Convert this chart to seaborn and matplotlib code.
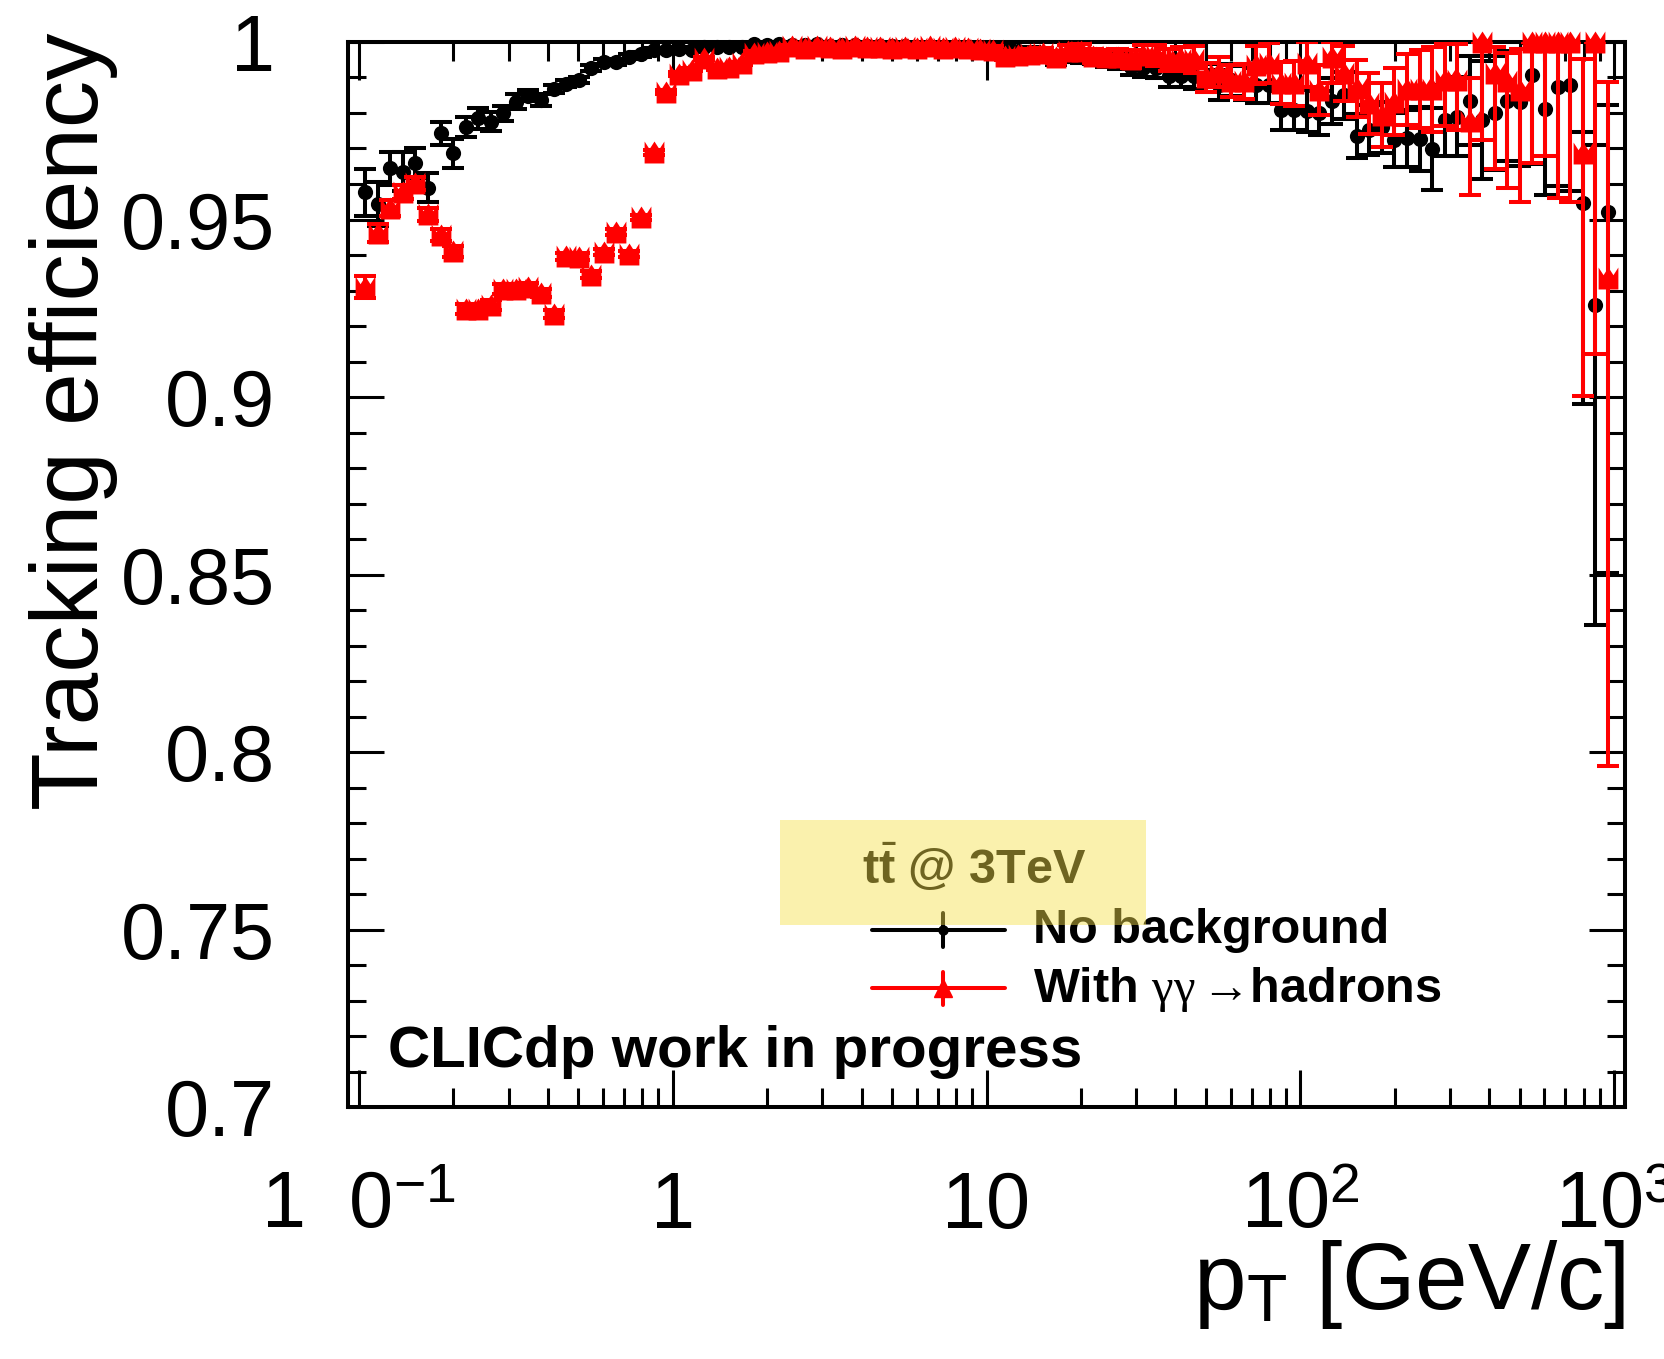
import numpy as np
import pandas as pd
import matplotlib
matplotlib.use("Agg")
import matplotlib.pyplot as plt
import seaborn as sns
from matplotlib.ticker import FixedLocator, FixedFormatter, NullFormatter
from matplotlib.patches import Rectangle
from matplotlib.lines import Line2D
from matplotlib.path import Path

# ---------------- data ----------------
# histogram binning: 100 log bins, 0.1 .. 1000 GeV/c (25 per decade)
bin_edges = np.logspace(-1, 3, 101)
pt_centers = np.sqrt(bin_edges[:-1] * bin_edges[1:])

label_nobkg = "No background"
label_bkg = "With $\\gamma\\gamma\\,$\u2192hadrons"

eff_nobkg = [
    0.9577, 0.9544, 0.9644, 0.9635, 0.9660, 0.9590, 0.9743, 0.9686, 0.9761, 0.9785,
    0.9776, 0.9799, 0.9832, 0.9849, 0.9837, 0.9867, 0.9882, 0.9893, 0.9926, 0.9945,
    0.9943, 0.9959, 0.9965, 0.9977, 0.9977, 0.9980, 0.9977, 0.9986, 0.9986, 0.9986,
    0.9986, 0.9993, 0.9992, 0.9993, 0.9992, 0.9991, 0.9993, 0.9990, 0.9991, 0.9992,
    0.9990, 0.9989, 0.9990, 0.9988, 0.9987, 0.9985, 0.9986, 0.9984, 0.9978, 0.9980,
    0.9981, 0.9979, 0.9975, 0.9973, 0.9970, 0.9951, 0.9960, 0.9958, 0.9955, 0.9950,
    0.9945, 0.9930, 0.9928, 0.9927, 0.9905, 0.9905, 0.9905, 0.9898, 0.9880, 0.9893,
    0.9885, 0.9878, 0.9879, 0.9808, 0.9808, 0.9806, 0.9800, 0.9833, 0.9850, 0.9735,
    0.9752, 0.9760, 0.9724, 0.9729, 0.9726, 0.9698, 0.9780, 0.9790, 0.9835, 0.9781,
    0.9800, 0.9834, 0.9830, 0.9907, 0.9810, 0.9874, 0.9880, 0.9546, 0.9259, 0.9522,
]
err_lo_nobkg = [
    0.0066, 0.0062, 0.0047, 0.0055, 0.0042, 0.0042, 0.0033, 0.0041, 0.0029, 0.0030,
    0.0027, 0.0022, 0.0021, 0.0015, 0.0017, 0.0012, 0.0010, 0.0009, 0.0008, 0.0007,
    0.0007, 0.0006, 0.0006, 0.0005, 0.0005, 0.0005, 0.0005, 0.0004, 0.0004, 0.0004,
    0.0004, 0.0004, 0.0004, 0.0004, 0.0004, 0.0004, 0.0004, 0.0004, 0.0004, 0.0004,
    0.0004, 0.0004, 0.0005, 0.0005, 0.0005, 0.0006, 0.0006, 0.0007, 0.0008, 0.0008,
    0.0009, 0.0010, 0.0011, 0.0012, 0.0013, 0.0015, 0.0015, 0.0017, 0.0018, 0.0020,
    0.0021, 0.0024, 0.0026, 0.0028, 0.0031, 0.0033, 0.0036, 0.0039, 0.0042, 0.0045,
    0.0048, 0.0050, 0.0052, 0.0055, 0.0057, 0.0060, 0.0062, 0.0065, 0.0066, 0.0062,
    0.0070, 0.0072, 0.0075, 0.0080, 0.0090, 0.0115, 0.0100, 0.0110, 0.0125, 0.0166,
    0.0160, 0.0170, 0.0180, 0.0250, 0.0240, 0.0280, 0.0300, 0.0566, 0.0900, 0.1018,
]
err_hi_nobkg = [
    0.0066, 0.0062, 0.0047, 0.0055, 0.0042, 0.0042, 0.0033, 0.0041, 0.0029, 0.0030,
    0.0027, 0.0022, 0.0021, 0.0015, 0.0017, 0.0012, 0.0010, 0.0009, 0.0008, 0.0007,
    0.0007, 0.0006, 0.0006, 0.0005, 0.0005, 0.0005, 0.0005, 0.0004, 0.0004, 0.0004,
    0.0004, 0.0004, 0.0004, 0.0004, 0.0004, 0.0004, 0.0004, 0.0004, 0.0004, 0.0004,
    0.0004, 0.0004, 0.0005, 0.0005, 0.0005, 0.0006, 0.0006, 0.0007, 0.0008, 0.0008,
    0.0009, 0.0010, 0.0011, 0.0012, 0.0013, 0.0015, 0.0015, 0.0017, 0.0018, 0.0020,
    0.0021, 0.0024, 0.0026, 0.0028, 0.0031, 0.0033, 0.0036, 0.0039, 0.0042, 0.0045,
    0.0048, 0.0050, 0.0052, 0.0055, 0.0057, 0.0060, 0.0062, 0.0065, 0.0066, 0.0062,
    0.0070, 0.0072, 0.0075, 0.0080, 0.0090, 0.0115, 0.0100, 0.0110, 0.0125, 0.0166,
    0.0160, 0.0140, 0.0150, 0.0090, 0.0180, 0.0120, 0.0120, 0.0200, 0.0450, 0.0300,
]

eff_bkg = [
    0.9310, 0.9463, 0.9532, 0.9578, 0.9602, 0.9515, 0.9457, 0.9410, 0.9248, 0.9249,
    0.9259, 0.9304, 0.9305, 0.9309, 0.9292, 0.9233, 0.9396, 0.9395, 0.9344, 0.9409,
    0.9465, 0.9402, 0.9506, 0.9690, 0.9859, 0.9910, 0.9922, 0.9954, 0.9926, 0.9930,
    0.9940, 0.9970, 0.9972, 0.9975, 0.9988, 0.9984, 0.9990, 0.9986, 0.9983, 0.9988,
    0.9985, 0.9987, 0.9982, 0.9986, 0.9984, 0.9990, 0.9983, 0.9985, 0.9982, 0.9980,
    0.9978, 0.9961, 0.9963, 0.9966, 0.9968, 0.9958, 0.9975, 0.9976, 0.9960, 0.9958,
    0.9957, 0.9952, 0.9964, 0.9962, 0.9950, 0.9953, 0.9951, 0.9900, 0.9916, 0.9890,
    0.9889, 0.9935, 0.9940, 0.9884, 0.9884, 0.9940, 0.9865, 0.9957, 0.9912, 0.9870,
    0.9827, 0.9794, 0.9832, 0.9867, 0.9867, 0.9867, 0.9893, 0.9893, 0.9778, 1.0000,
    0.9913, 0.9890, 0.9865, 1.0000, 1.0000, 1.0000, 1.0000, 0.9686, 1.0000, 0.9334,
]
err_lo_bkg = [
    0.0030, 0.0025, 0.0022, 0.0020, 0.0018, 0.0018, 0.0017, 0.0016, 0.0015, 0.0014,
    0.0014, 0.0013, 0.0012, 0.0012, 0.0011, 0.0011, 0.0010, 0.0010, 0.0010, 0.0009,
    0.0009, 0.0009, 0.0008, 0.0007, 0.0006, 0.0005, 0.0005, 0.0005, 0.0005, 0.0005,
    0.0004, 0.0004, 0.0004, 0.0004, 0.0004, 0.0004, 0.0004, 0.0004, 0.0004, 0.0004,
    0.0004, 0.0005, 0.0005, 0.0005, 0.0006, 0.0006, 0.0006, 0.0007, 0.0007, 0.0008,
    0.0010, 0.0012, 0.0013, 0.0014, 0.0015, 0.0016, 0.0017, 0.0018, 0.0019, 0.0020,
    0.0022, 0.0025, 0.0027, 0.0029, 0.0031, 0.0034, 0.0037, 0.0040, 0.0043, 0.0046,
    0.0050, 0.0053, 0.0056, 0.0060, 0.0063, 0.0066, 0.0070, 0.0073, 0.0077, 0.0080,
    0.0085, 0.0090, 0.0095, 0.0100, 0.0110, 0.0120, 0.0130, 0.0140, 0.0210, 0.0276,
    0.0270, 0.0300, 0.0315, 0.0340, 0.0320, 0.0440, 0.0450, 0.0682, 0.0878, 0.1374,
]
err_hi_bkg = [
    0.0030, 0.0025, 0.0022, 0.0020, 0.0018, 0.0018, 0.0017, 0.0016, 0.0015, 0.0014,
    0.0014, 0.0013, 0.0012, 0.0012, 0.0011, 0.0011, 0.0010, 0.0010, 0.0010, 0.0009,
    0.0009, 0.0009, 0.0008, 0.0007, 0.0006, 0.0005, 0.0005, 0.0005, 0.0005, 0.0005,
    0.0004, 0.0004, 0.0004, 0.0004, 0.0004, 0.0004, 0.0004, 0.0004, 0.0004, 0.0004,
    0.0004, 0.0005, 0.0005, 0.0005, 0.0006, 0.0006, 0.0006, 0.0007, 0.0007, 0.0008,
    0.0010, 0.0012, 0.0013, 0.0014, 0.0015, 0.0016, 0.0017, 0.0018, 0.0019, 0.0020,
    0.0022, 0.0025, 0.0027, 0.0029, 0.0031, 0.0034, 0.0037, 0.0040, 0.0043, 0.0046,
    0.0050, 0.0053, 0.0056, 0.0060, 0.0063, 0.0060, 0.0070, 0.0043, 0.0077, 0.0080,
    0.0085, 0.0090, 0.0095, 0.0100, 0.0110, 0.0120, 0.0100, 0.0100, 0.0120, 0.0000,
    0.0072, 0.0080, 0.0115, 0.0000, 0.0000, 0.0000, 0.0000, 0.0266, 0.0000, 0.0554,
]

x_tick_values = [0.1, 1, 10, 100, 1000]
x_tick_labels = [r"1  0$^{\mathregular{-1}}$", "1", "10",
                 r"10$^{\mathregular{2}}$", r"10$^{\mathregular{3}}$"]
y_tick_values = [0.7, 0.75, 0.8, 0.85, 0.9, 0.95, 1.0]
y_tick_labels = ["0.7", "0.75", "0.8", "0.85", "0.9", "0.95", "1"]

# ---------------- style ----------------
sns.set_theme(style="ticks")
plt.rcParams["font.family"] = ["Liberation Sans", "DejaVu Sans"]
plt.rcParams["mathtext.fontset"] = "custom"
plt.rcParams["mathtext.rm"] = "Liberation Sans"
plt.rcParams["mathtext.it"] = "Liberation Serif"
plt.rcParams["mathtext.bf"] = "Liberation Sans:bold"
for key in ["axes.edgecolor", "xtick.color", "ytick.color", "text.color",
            "axes.labelcolor"]:
    plt.rcParams[key] = "black"

# ROOT-like heavy triangle marker (as rendered in the reference)
crown = Path(
    [(-0.9, -1.0), (0.9, -1.0), (0.9, 1.0), (0.45, 0.3), (0.0, 1.0),
     (-0.45, 0.3), (-0.9, 1.0), (-0.9, -1.0)],
    [Path.MOVETO] + [Path.LINETO] * 6 + [Path.CLOSEPOLY],
)

df = pd.concat([
    pd.DataFrame({"pt": pt_centers, "eff": eff_nobkg, "series": label_nobkg}),
    pd.DataFrame({"pt": pt_centers, "eff": eff_bkg, "series": label_bkg}),
], ignore_index=True)

fig = plt.figure(figsize=(16.65, 13.59), dpi=100)
ax = fig.add_axes([0.2090, 0.1854, 0.7670, 0.7837])
ax.set_facecolor("white")

# black series
ax.errorbar(pt_centers, eff_nobkg, yerr=[err_lo_nobkg, err_hi_nobkg], fmt="none",
            ecolor="black", elinewidth=2.9, capsize=7.6, capthick=2.9, zorder=2)
sns.scatterplot(data=df[df.series == label_nobkg], x="pt", y="eff", ax=ax,
                color="black", marker="o", s=120, linewidth=0, legend=False,
                clip_on=False, zorder=3)
# red series
ax.errorbar(pt_centers, eff_bkg, yerr=[err_lo_bkg, err_hi_bkg], fmt="none",
            ecolor="#ff0000", elinewidth=2.9, capsize=7.6, capthick=2.9, zorder=4)
sns.scatterplot(data=df[df.series == label_bkg], x="pt", y="eff", ax=ax,
                color="#ff0000", marker=crown, s=250, linewidth=0, legend=False,
                clip_on=False, zorder=5)

ax.set_xscale("log")
ax.set_xlim(10 ** -1.035, 10 ** 3.035)
ax.set_ylim(0.7, 1.0)

ax.xaxis.set_major_locator(FixedLocator(x_tick_values))
ax.xaxis.set_major_formatter(FixedFormatter(x_tick_labels))
minor_x = [m * 10.0 ** e for e in range(-2, 4) for m in range(2, 10)]
ax.xaxis.set_minor_locator(FixedLocator(minor_x))
ax.xaxis.set_minor_formatter(NullFormatter())
ax.yaxis.set_major_locator(FixedLocator(y_tick_values))
ax.yaxis.set_major_formatter(FixedFormatter(y_tick_labels))
ax.yaxis.set_minor_locator(FixedLocator(np.round(np.arange(0.70, 1.0001, 0.01), 2)))
ax.yaxis.set_minor_formatter(NullFormatter())

ax.tick_params(which="both", direction="in", top=True, right=True, width=2.2,
               labelsize=57)
ax.tick_params(axis="x", which="major", length=27, pad=87)
ax.tick_params(axis="x", which="minor", length=13.5)
ax.tick_params(axis="y", which="major", length=26, pad=52.6)
ax.tick_params(axis="y", which="minor", length=13)
for t in ax.xaxis.get_major_ticks():
    t.label1.set_verticalalignment("baseline")

for s in ax.spines.values():
    s.set_linewidth(2.9)
    s.set_color("black")
ax.grid(False)

ax.set_xlabel(r"p$_{\mathregular{T}}$ [GeV/c]", fontsize=68, loc="right")
ax.xaxis.set_label_coords(1.0, -0.123)
ax.set_ylabel("Tracking efficiency", fontsize=68, loc="top")
ax.yaxis.set_label_coords(-0.180, 1.009)

ax.text(0.0313, 0.0376, "CLICdp work in progress", transform=ax.transAxes,
        fontsize=42, fontweight="bold", ha="left", va="baseline")

# ---- legend (ROOT style) ----
ax.text(0.4902, 0.2094, r"t$\bar{\mathbf{t}}$ @ 3TeV", transform=ax.transAxes,
        fontsize=35, fontweight="bold", ha="center", va="baseline")
ax.text(0.5364, 0.1540, label_nobkg, transform=ax.transAxes, fontsize=35,
        fontweight="bold", ha="left", va="baseline")
ax.text(0.5364, 0.0986, label_bkg, transform=ax.transAxes, fontsize=35,
        fontweight="bold", ha="left", va="baseline")
leg_artists = [
    Line2D([0.4107, 0.5142], [0.1662, 0.1662], color="black", lw=2.9),
    Line2D([0.4659, 0.4659], [0.1502, 0.1822], color="black", lw=2.9),
    Line2D([0.4659], [0.1662], color="black", marker="o", ms=6.5, lw=0),
    Line2D([0.4107, 0.5142], [0.1115, 0.1115], color="#ff0000", lw=2.9),
    Line2D([0.4659, 0.4659], [0.0958, 0.1268], color="#ff0000", lw=2.9),
    Line2D([0.4659], [0.1115], color="#ff0000", marker="^", ms=13, lw=0),
]
for a in leg_artists:
    a.set_transform(ax.transAxes)
    a.set_clip_on(False)
    a.set_zorder(6)
    ax.add_line(a)

ax.add_patch(Rectangle((0.3383, 0.1709), 0.2866, 0.0986, transform=ax.transAxes,
                       facecolor=(245 / 255, 224 / 255, 74 / 255), alpha=0.45,
                       edgecolor="none", zorder=10))

fig.savefig("out.png", dpi=100, facecolor="white")
